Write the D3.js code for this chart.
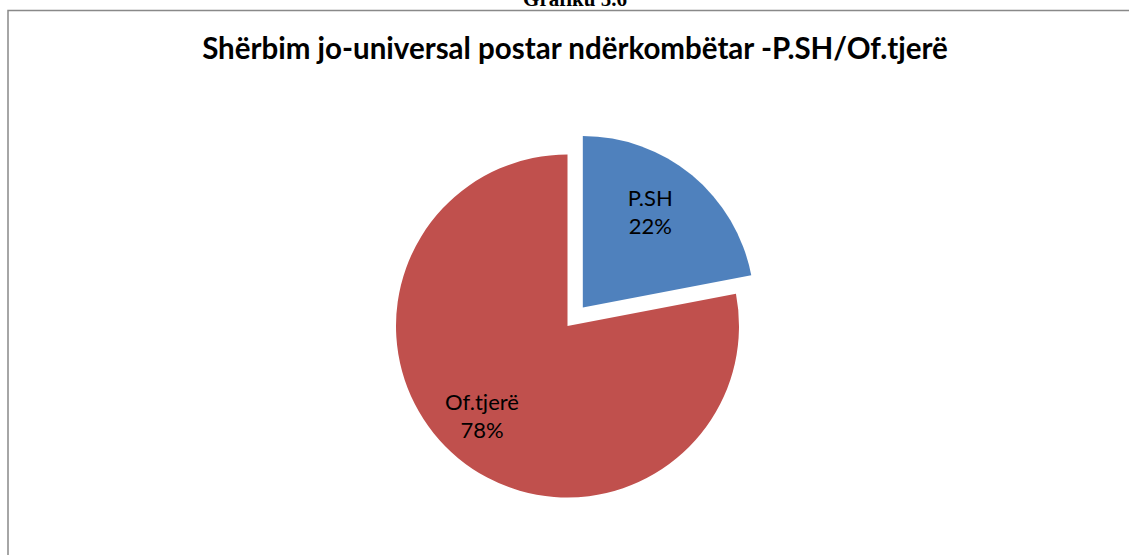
<!DOCTYPE html>
<html>
<head>
<meta charset="utf-8">
<script src="https://cdn.jsdelivr.net/npm/d3@7"></script>
<style>
  body { margin: 0; background: #fff; }
  svg { display: block; }
</style>
</head>
<body>
<script>
// Data
const categories = ['P.SH', 'Of.tjerë'];
const values = [22, 78];
const colors = ['#4F81BD', '#C0504D'];
const exploded = [true, false];

const width = 1129;
const height = 555;
const cx = 567.5;
const cy = 326;
const radius = 171.5;
const explodeDist = 24;

const svg = d3.select('body')
  .append('svg')
  .attr('width', width)
  .attr('height', height);

// Document caption above chart (cut off at top, as in the source page)
svg.append('text')
  .attr('x', 575)
  .attr('y', 6)
  .attr('text-anchor', 'middle')
  .style('font-family', '"Liberation Serif", "Times New Roman", serif')
  .style('font-weight', 'bold')
  .style('font-size', '21px')
  .text('Grafiku 5.6');

// Chart frame
svg.append('rect')
  .attr('x', 8)
  .attr('y', 10.5)
  .attr('width', 1200)
  .attr('height', 600)
  .attr('fill', 'none')
  .attr('stroke', '#898989')
  .attr('stroke-width', 1.5);

// Title
svg.append('text')
  .attr('x', 575)
  .attr('y', 59)
  .attr('text-anchor', 'middle')
  .style('font-family', 'Lato, "Open Sans", sans-serif')
  .style('font-weight', 'bold')
  .style('font-size', '29.5px')
  .text('Shërbim jo-universal postar ndërkombëtar -P.SH/Of.tjerë');

const data = categories.map((c, i) => ({ name: c, value: values[i], color: colors[i], explode: exploded[i] }));

const pie = d3.pie().value(d => d.value).sort(null);
const arc = d3.arc().innerRadius(0).outerRadius(radius);
const labelArc = d3.arc().innerRadius(radius * 0.7).outerRadius(radius * 0.7);

const arcs = pie(data);

const g = svg.append('g')
  .attr('transform', 'translate(' + cx + ',' + cy + ')');

const slices = g.selectAll('.slice')
  .data(arcs)
  .enter()
  .append('g')
  .attr('class', 'slice')
  .attr('transform', d => {
    if (!d.data.explode) return null;
    const mid = (d.startAngle + d.endAngle) / 2;
    return 'translate(' + (Math.sin(mid) * explodeDist) + ',' + (-Math.cos(mid) * explodeDist) + ')';
  });

slices.append('path')
  .attr('d', arc)
  .attr('fill', d => d.data.color);

const labels = slices.append('text')
  .attr('transform', d => 'translate(' + labelArc.centroid(d) + ')')
  .attr('text-anchor', 'middle')
  .style('font-family', 'Lato, "Open Sans", sans-serif')
  .style('font-size', '22px')
  .style('fill', '#000');

labels.append('tspan')
  .attr('x', -9)
  .attr('y', -9)
  .text(d => d.data.name);

labels.append('tspan')
  .attr('x', -9)
  .attr('y', 19)
  .text(d => d.data.value + '%');
</script>
</body>
</html>
